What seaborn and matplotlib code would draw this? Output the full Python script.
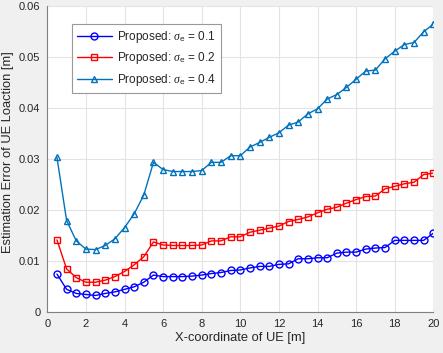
import matplotlib
matplotlib.use("Agg")
import matplotlib.pyplot as plt
import numpy as np
import pandas as pd
import seaborn as sns

# UE x-coordinate [m]
x_ue = [0.5, 1.0, 1.5, 2.0, 2.5, 3.0, 3.5, 4.0, 4.5, 5.0,
        5.5, 6.0, 6.5, 7.0, 7.5, 8.0, 8.5, 9.0, 9.5, 10.0,
        10.5, 11.0, 11.5, 12.0, 12.5, 13.0, 13.5, 14.0, 14.5, 15.0,
        15.5, 16.0, 16.5, 17.0, 17.5, 18.0, 18.5, 19.0, 19.5, 20.0]

err_01 = [0.0075, 0.0045, 0.0037, 0.0035, 0.0033, 0.0037, 0.0040, 0.0045, 0.0050, 0.0059,
          0.0073, 0.0070, 0.0070, 0.0070, 0.0071, 0.0073, 0.0076, 0.0078, 0.0082, 0.0083,
          0.0087, 0.0090, 0.0090, 0.0094, 0.0095, 0.0105, 0.0105, 0.0107, 0.0107, 0.0116,
          0.0118, 0.0118, 0.0124, 0.0126, 0.0127, 0.0141, 0.0141, 0.0141, 0.0141, 0.0155]

err_02 = [0.0142, 0.0085, 0.0068, 0.0059, 0.0059, 0.0063, 0.0070, 0.0080, 0.0093, 0.0109,
          0.0138, 0.0132, 0.0131, 0.0131, 0.0131, 0.0132, 0.0140, 0.0140, 0.0148, 0.0148,
          0.0157, 0.0161, 0.0165, 0.0169, 0.0178, 0.0182, 0.0187, 0.0195, 0.0202, 0.0206,
          0.0214, 0.0221, 0.0227, 0.0228, 0.0242, 0.0247, 0.0252, 0.0255, 0.0270, 0.0273]

err_04 = [0.0304, 0.0180, 0.0140, 0.0124, 0.0123, 0.0131, 0.0144, 0.0166, 0.0193, 0.0230,
          0.0294, 0.0280, 0.0276, 0.0276, 0.0276, 0.0278, 0.0294, 0.0294, 0.0307, 0.0307,
          0.0324, 0.0333, 0.0343, 0.0352, 0.0367, 0.0373, 0.0389, 0.0399, 0.0418, 0.0427,
          0.0441, 0.0457, 0.0473, 0.0475, 0.0497, 0.0512, 0.0525, 0.0529, 0.0550, 0.0565]

labels = [r"Proposed: $\sigma_{\rm e}$ = 0.1", r"Proposed: $\sigma_{\rm e}$ = 0.2",
          r"Proposed: $\sigma_{\rm e}$ = 0.4"]
colors = ["#0000ff", "#ff0000", "#0072bd"]
markers = ["o", "s", "^"]

sns.set_style("white")
plt.rcParams["font.family"] = ["Liberation Sans", "DejaVu Sans"]
plt.rcParams["mathtext.fontset"] = "custom"
plt.rcParams["mathtext.it"] = "Liberation Serif:italic"
plt.rcParams["mathtext.rm"] = "Liberation Sans"

fig = plt.figure(figsize=(4.43, 3.53), dpi=100, facecolor="#f0f0f0")
ax = fig.add_axes([47.3 / 443, (353 - 312.3) / 353, 386.0 / 443, 306.0 / 353])

for ys, lab, c, m in zip([err_01, err_02, err_04], labels, colors, markers):
    df = pd.DataFrame({"x": x_ue, "y": ys})
    sns.lineplot(data=df, x="x", y="y", ax=ax, color=c, marker=m,
                 markersize=5, markerfacecolor="none", markeredgecolor=c,
                 markeredgewidth=1.0, linewidth=1.0, label=lab)

ax.set_xlim(0, 20)
ax.set_ylim(0, 0.06)
ax.set_xticks(np.arange(0, 21, 2))
ax.set_yticks(np.arange(0, 0.061, 0.01))
ax.set_yticklabels(["0", "0.01", "0.02", "0.03", "0.04", "0.05", "0.06"])
ax.grid(True, color="#e3e3e3", linewidth=0.8)
ax.set_axisbelow(True)

for s in ["top", "right"]:
    ax.spines[s].set_visible(False)
for s in ["left", "bottom"]:
    ax.spines[s].set_color("#808080")
    ax.spines[s].set_linewidth(0.8)
ax.tick_params(direction="in", length=3, width=0.8, color="#808080",
               labelsize=8, labelcolor="#262626", pad=5)

ax.set_xlabel("X-coordinate of UE [m]", fontsize=9.3, color="#262626", labelpad=2)
ax.set_ylabel("Estimation Error of UE Loaction [m]", fontsize=9.3, color="#262626")
ax.yaxis.set_label_coords(-0.087, 0.524)

leg = ax.legend(loc="upper left", bbox_to_anchor=(0.064, 0.942), borderaxespad=0,
                fancybox=False, framealpha=1, edgecolor="#999999", fontsize=8.5,
                handlelength=3.0, labelspacing=0.47, borderpad=0.4, handletextpad=0.4)
leg.get_frame().set_linewidth(0.8)

fig.savefig("out.png", dpi=100, facecolor=fig.get_facecolor())
